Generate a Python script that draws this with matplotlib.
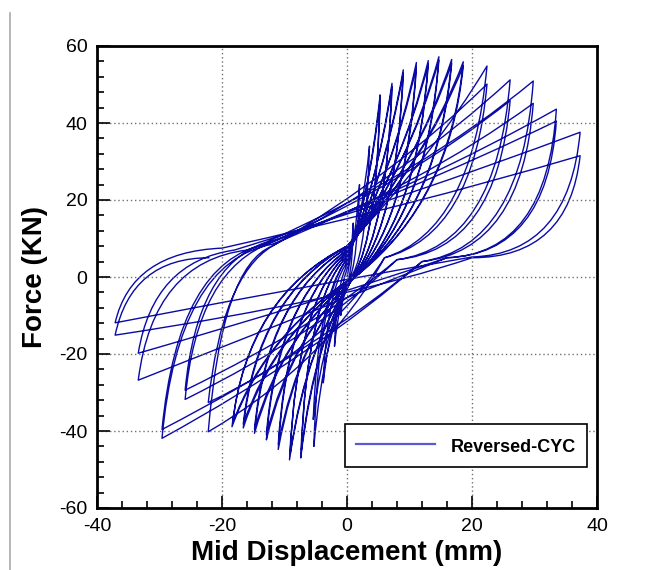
import matplotlib
matplotlib.use("Agg")
import matplotlib.pyplot as plt
from matplotlib.path import Path
from matplotlib.patches import PathPatch
from matplotlib.lines import Line2D
from matplotlib.ticker import MultipleLocator

plt.rcParams["font.family"] = ["Liberation Sans", "DejaVu Sans"]
plt.rcParams["axes.unicode_minus"] = False

# key points of each load cycle (displacement mm, force KN)
load_ctrl_pos = [(0.7, 5), (1.4, 9), (2.4, 14), (3.4, 19), (3.4, 19), (4.6, 22), (4.6, 22),
                 (5.8, 24), (5.8, 24), (7.2, 26), (7.2, 26), (8.6, 27), (8.6, 27),
                 (9.8, 28), (9.8, 28), (11.2, 29), (11.2, 29), (12.6, 30), (12.6, 30),
                 (14.0, 32), (8.0, 27), (10.0, 27), (10.0, 25), (12.0, 27), (12.0, 24),
                 (12.0, 24), (10.0, 22), (10.0, 21), (9.0, 18)]
pos_peaks = [(1.0, 14), (2.0, 24), (3.6, 34), (5.3, 47.3), (5.3, 46.0), (7.2, 50.3), (7.2, 49.5),
             (9.0, 53.8), (9.0, 53.0), (11.1, 55.7), (11.1, 54.6), (13.0, 56.2), (13.0, 55.3),
             (14.7, 57.2), (14.7, 56.3), (16.75, 56.5), (16.75, 55.5), (18.6, 55.9), (18.6, 54.8),
             (22.4, 54.8), (22.4, 50.1), (26.1, 51.2), (26.1, 45.8), (29.8, 50.9), (29.8, 45.1),
             (33.5, 43.6), (33.5, 40.5), (37.3, 37.6), (37.3, 31.5)]
unload_ctrl = [(0.9, 3), (1.7, 5), (3.1, 7), (4.7, 10), (4.7, 10), (6.4, 12), (6.4, 12),
               (8.0, 14), (8.0, 14), (9.8, 16), (9.8, 16), (11.5, 17), (11.5, 17),
               (13.0, 18), (13.0, 18), (14.8, 19), (14.8, 19), (16.5, 20), (16.5, 20),
               (20.0, 12), (20.3, 11), (24.0, 8), (24.0, 7), (28.0, 8), (28.0, 7),
               (32.0, 6), (32.0, 6), (35.5, 6), (35.5, 5)]
feet = [(0.3, 0), (0.6, 0.5), (1.0, 1), (1.2, 1), (1.2, 1), (1.4, 1), (1.4, 1),
        (1.6, 1), (1.6, 1), (1.8, 1), (1.8, 1), (2.0, 1), (2.0, 1),
        (2.0, 1), (2.0, 1), (2.0, 1), (2.0, 1), (2.0, 1), (2.0, 1),
        (6.0, 5), (6.0, 5), (8.0, 4.5), (8.0, 4.5), (12.0, 4), (12.0, 4),
        (16.0, 5), (16.0, 5), (20.0, 5.2), (20.0, 5)]
load_ctrl_neg = [(-0.6, -3.5), (-1.3, -6), (-2.6, -9), (-3.7, -14), (-3.7, -13), (-5.1, -15), (-5.1, -15),
                 (-6.4, -16), (-6.4, -16), (-7.7, -15), (-7.7, -15), (-9.0, -15), (-9.0, -15),
                 (-10.3, -14), (-10.3, -14), (-11.6, -14), (-11.6, -14), (-12.9, -14), (-12.9, -14),
                 (-3.0, -22), (-3.0, -18), (-4.0, -14), (-4.0, -12), (-5.0, -20), (-5.0, -19),
                 (-4.0, -8), (-4.0, -6), (-2.0, -1), (0.0, -6)]
neg_peaks = [(-1.0, -10), (-2.0, -18), (-3.8, -27.5), (-5.3, -44.0), (-5.4, -37.0), (-7.4, -47.0), (-7.3, -45.0),
             (-9.2, -47.5), (-9.1, -46.0), (-11.0, -44.8), (-11.0, -43.5), (-12.9, -42.3), (-12.9, -41.0),
             (-14.8, -40.6), (-14.8, -39.5), (-16.6, -39.2), (-16.6, -38.2), (-18.4, -38.9), (-18.3, -38.0),
             (-22.2, -40.2), (-22.2, -32.6), (-25.9, -31.8), (-25.9, -29.4), (-29.6, -41.9), (-29.6, -39.6),
             (-33.4, -26.8), (-33.4, -19.8), (-37.1, -11.9), (-37.1, -15.1)]
reload_ctrl = [(-0.9, -2), (-1.7, -3), (-3.2, -4), (-4.6, -6), (-4.7, -6), (-6.5, -6), (-6.4, -6),
               (-8.0, -6), (-8.0, -6), (-9.6, -6), (-9.6, -6), (-11.2, -6), (-11.2, -6),
               (-12.8, -5), (-12.8, -5), (-14.4, -5), (-14.4, -5), (-16.0, -5), (-16.0, -5),
               (-20.0, 3), (-20.0, 0), (-24.0, 2), (-24.0, 3), (-27.0, 4), (-27.0, 4),
               (-31.0, 4), (-31.0, 4), (-34.5, 6.5), (-34.5, 5)]
humps = [(-0.2, 1), (-0.3, 2), (-0.3, 3), (-0.3, 4), (-0.3, 4), (-0.2, 5), (-0.2, 5),
         (0.0, 6), (0.0, 6), (0.0, 6.5), (0.0, 6.5), (0.0, 7), (0.0, 7),
         (0.0, 7.5), (0.0, 7.5), (0.0, 8), (0.0, 8), (0.0, 8), (0.0, 8),
         (-12.0, 8), (-12.0, 8), (-12.0, 9), (-13.0, 9), (-12.0, 8.5), (-13.0, 8.5),
         (-16.0, 7), (-18.0, 7), (-20.0, 7.5), (-22.0, 5)]

line_color = "#0a0aa5"

fig = plt.figure(figsize=(6.66, 5.70), dpi=100)
ax = fig.add_axes([97 / 666, 62 / 570, 500 / 666, 462 / 570])

verts = [(0, 0)]
codes = [Path.MOVETO]
for i in range(len(pos_peaks)):
    verts += [load_ctrl_pos[i], pos_peaks[i], unload_ctrl[i], feet[i],
              load_ctrl_neg[i], neg_peaks[i], reload_ctrl[i], humps[i]]
    codes += [Path.CURVE3] * 8
curve = PathPatch(Path(verts, codes), fill=False, edgecolor=line_color, lw=1.0,
                  joinstyle="round")
ax.add_patch(curve)

ax.set_xlim(-40, 40)
ax.set_ylim(-60, 60)
ax.xaxis.set_major_locator(MultipleLocator(20))
ax.yaxis.set_major_locator(MultipleLocator(20))
ax.xaxis.set_minor_locator(MultipleLocator(4))
ax.yaxis.set_minor_locator(MultipleLocator(4))
ax.tick_params(which="both", direction="in", top=False, right=False, labelsize=14,
               width=1.2, colors="black")
ax.tick_params(which="major", length=9, pad=7)
ax.tick_params(which="minor", length=5)
ax.grid(True, which="major", linestyle=(0, (1, 2)), color="#707070", linewidth=1.0)
for sp in ax.spines.values():
    sp.set_linewidth(2.0)

ax.set_xlabel("Mid Displacement (mm)", fontsize=20, fontweight="bold", labelpad=4)
ax.set_ylabel("Force (KN)", fontsize=20, fontweight="bold", labelpad=8)

handle = Line2D([], [], color="#5a5ad2", lw=1.6)
leg = ax.legend([handle], ["Reversed-CYC"], loc="lower right",
                bbox_to_anchor=(0.98, 0.089), borderaxespad=0,
                prop={"weight": "bold", "size": 13}, handlelength=4.4,
                handleheight=1.35, handletextpad=0.85, borderpad=0.62,
                fancybox=False, framealpha=1, edgecolor="black")
leg.get_frame().set_linewidth(1.2)

fig.add_artist(Line2D([10 / 666, 10 / 666], [0, 557 / 570], color="#aaaaaa", lw=1.2))

fig.savefig("out.png", dpi=100)
